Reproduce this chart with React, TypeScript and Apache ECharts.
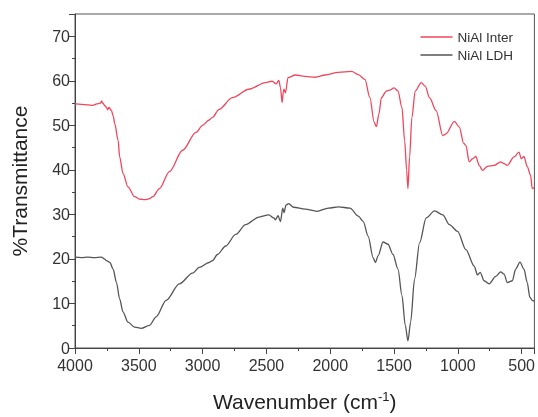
import React, { useEffect, useRef } from "react";
import * as echarts from "echarts";

const seriesNames = ["NiAl Inter", "NiAl LDH"];

const xTickLabels = [4000, 3500, 3000, 2500, 2000, 1500, 1000, 500];
const yTickLabels = [0, 10, 20, 30, 40, 50, 60, 70];

const WN_START = 4000;
const WN_END = 400;

const interData: [number, number][] = [
  [4000, 54.8], [3950, 54.7], [3900, 54.6], [3860, 54.5], [3830, 54.8], [3800, 55.0],
  [3792, 55.5], [3780, 54.9], [3766, 54.4], [3753, 54.0], [3745, 53.5], [3733, 54.0],
  [3714, 53.3], [3700, 52.0], [3688, 50.3], [3662, 46.6], [3650, 42.9], [3624, 39.2],
  [3585, 36.2], [3533, 34.0], [3490, 33.4], [3455, 33.3], [3420, 33.5], [3390, 34.0],
  [3338, 35.8], [3260, 39.6], [3157, 44.4], [3052, 48.4], [3000, 50.0], [2949, 51.2],
  [2923, 51.8], [2871, 53.6], [2767, 56.2], [2637, 58.1], [2507, 59.6], [2456, 59.9],
  [2424, 59.3], [2403, 60.1], [2390, 58.5], [2377, 55.1], [2368, 57.5], [2362, 58.1],
  [2351, 57.3], [2331, 60.7], [2273, 61.3], [2200, 61.0], [2118, 60.8], [2040, 61.3],
  [1936, 61.9], [1833, 62.1], [1780, 61.4], [1728, 60.3], [1689, 56.2], [1656, 50.7],
  [1638, 49.7], [1619, 52.5], [1599, 56.2], [1560, 57.7], [1534, 57.9], [1500, 58.4],
  [1469, 57.7], [1438, 54.0], [1417, 46.6], [1401, 39.9], [1391, 35.8], [1378, 42.9],
  [1360, 51.8], [1334, 57.7], [1287, 59.6], [1256, 58.8], [1222, 56.2], [1170, 53.3],
  [1118, 47.7], [1093, 48.1], [1027, 50.9], [988, 49.6], [955, 46.0], [937, 45.5],
  [911, 41.8], [885, 42.5], [859, 43.0], [833, 41.0], [807, 39.9], [768, 40.8],
  [716, 41.0], [664, 41.8], [638, 41.4], [612, 41.0], [560, 42.9], [521, 44.0],
  [503, 42.5], [482, 43.0], [456, 40.7], [430, 38.8], [417, 35.8], [402, 36.0],
];

const ldhData: [number, number][] = [
  [4000, 20.4], [3950, 20.3], [3900, 20.4], [3850, 20.3], [3792, 20.4], [3770, 20.0],
  [3753, 19.6], [3727, 19.2], [3701, 17.7], [3675, 14.7], [3650, 11.0], [3624, 8.1],
  [3585, 5.8], [3533, 4.7], [3481, 4.4], [3416, 5.1], [3364, 7.0], [3286, 10.7],
  [3182, 14.4], [3079, 16.8], [3027, 18.1], [2949, 19.2], [2923, 19.6], [2884, 21.0],
  [2819, 22.9], [2741, 25.5], [2663, 27.7], [2559, 29.4], [2481, 29.9], [2442, 29.2],
  [2429, 28.8], [2409, 29.7], [2390, 28.4], [2372, 31.4], [2362, 30.4], [2347, 32.1],
  [2326, 32.4], [2287, 31.6], [2196, 31.2], [2105, 30.7], [2014, 31.4], [1936, 31.7],
  [1845, 31.4], [1780, 29.6], [1741, 28.4], [1703, 25.1], [1664, 20.3], [1646, 19.2],
  [1625, 20.7], [1586, 23.8], [1547, 23.3], [1508, 21.0], [1469, 17.7], [1438, 11.8],
  [1412, 5.1], [1391, 1.6], [1370, 5.8], [1339, 15.5], [1300, 23.6], [1248, 29.2],
  [1183, 30.8], [1118, 29.9], [1066, 27.7], [1002, 26.2], [937, 22.1], [872, 18.4],
  [846, 16.4], [825, 17.0], [794, 15.1], [755, 14.4], [703, 16.1], [664, 17.1],
  [638, 16.6], [612, 14.7], [573, 15.1], [547, 17.7], [513, 19.3], [482, 17.7],
  [456, 14.7], [436, 11.4], [417, 10.7], [402, 10.5],
];

const FONT = "Liberation Sans, Arial, sans-serif";

// axis value = distance from 4000 cm-1, so ticks fall on multiples of 500 cm-1
const toAxis = (d: [number, number][]) => d.map(([w, t]) => [WN_START - w, t]);

export default function App() {
  const ref = useRef<HTMLDivElement>(null);
  useEffect(() => {
    if (!ref.current) return;
    const chart = echarts.init(ref.current, null, { renderer: "svg" });
    chart.setOption({
      animation: false,
      textStyle: { fontFamily: FONT },
      grid: {
        left: 75, right: 1, top: 14, bottom: 64,
        show: true, borderColor: "#555", borderWidth: 1,
      },
      legend: {
        orient: "vertical",
        right: 20,
        top: 25,
        icon: "rect",
        itemWidth: 32,
        itemHeight: 1.6,
        itemGap: 4,
        textStyle: { fontSize: 13.5, color: "#333", fontFamily: FONT },
        data: seriesNames,
      },
      xAxis: {
        type: "value",
        min: 0,
        max: WN_START - WN_END,
        interval: 500,
        name: "{a|Wavenumber (cm}{b|-1}{a|)}",
        nameLocation: "middle",
        nameGap: 42,
        nameTextStyle: {
          rich: {
            a: { fontSize: 21, color: "#222", fontFamily: FONT },
            b: { fontSize: 13, color: "#222", fontFamily: FONT, padding: [0, 0, 10, 0] },
          },
        },
        axisLine: { show: true, lineStyle: { color: "#444", width: 1 } },
        axisTick: { show: true, length: 6, lineStyle: { color: "#444" } },
        minorTick: { show: true, splitNumber: 2, length: 3, lineStyle: { color: "#444" } },
        splitLine: { show: false },
        axisLabel: {
          fontSize: 16, color: "#333", margin: 9, fontFamily: FONT,
          formatter: (v: number) => {
            const w = WN_START - v;
            return xTickLabels.includes(w) ? String(w) : "";
          },
        },
      },
      yAxis: {
        type: "value",
        min: 0,
        max: 75,
        interval: 10,
        name: "%Transmittance",
        nameLocation: "middle",
        nameGap: 45,
        nameTextStyle: { fontSize: 21, color: "#222", fontFamily: FONT },
        axisLine: { show: true, lineStyle: { color: "#444", width: 1 } },
        axisTick: { show: true, length: 6, lineStyle: { color: "#444" } },
        minorTick: { show: true, splitNumber: 2, length: 3, lineStyle: { color: "#444" } },
        splitLine: { show: false },
        axisLabel: {
          fontSize: 16, color: "#333", margin: 5, fontFamily: FONT,
          formatter: (v: number) => (yTickLabels.includes(v) ? String(v) : ""),
        },
      },
      series: [
        {
          name: seriesNames[0],
          type: "line",
          data: toAxis(interData),
          symbol: "none",
          smooth: 0.3,
          smoothMonotone: "x",
          lineStyle: { color: "#F0465C", width: 1.3 },
          itemStyle: { color: "#F0465C" },
        },
        {
          name: seriesNames[1],
          type: "line",
          data: toAxis(ldhData),
          symbol: "none",
          smooth: 0.3,
          smoothMonotone: "x",
          lineStyle: { color: "#555555", width: 1.3 },
          itemStyle: { color: "#555555" },
        },
      ],
    });
    return () => chart.dispose();
  }, []);
  return (
    <div
      ref={ref}
      style={{ position: "fixed", left: 0, top: 0, width: 538, height: 417 }}
    />
  );
}
